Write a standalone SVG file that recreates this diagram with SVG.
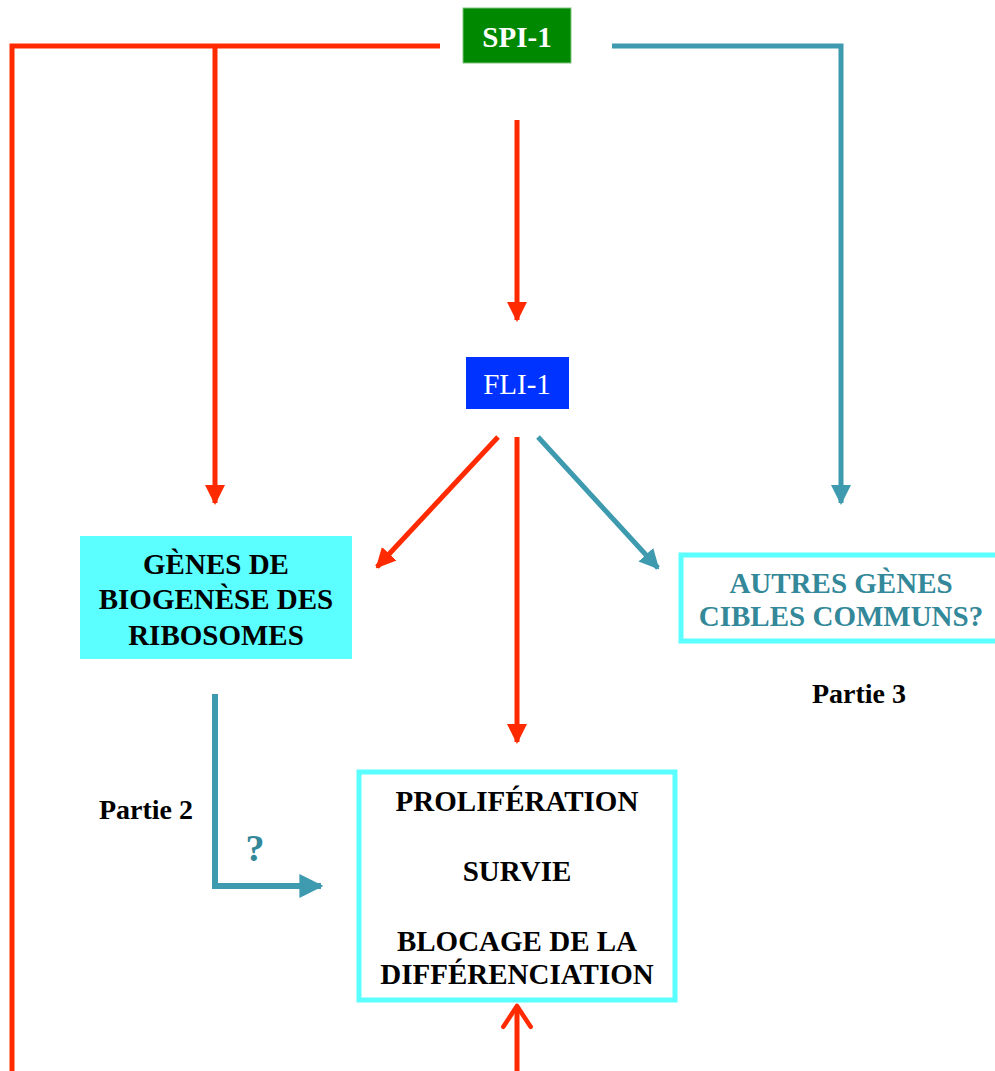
<svg xmlns="http://www.w3.org/2000/svg" width="995" height="1071" viewBox="0 0 995 1071">
<defs>
<style>
.red{stroke:#FF2A00;stroke-width:5;fill:none}
.teal{stroke:#3E9AAE;stroke-width:5;fill:none}
.t{font-family:"Liberation Serif","Times New Roman",serif;font-weight:bold;text-anchor:middle}
</style>
<marker id="ar" viewBox="0 0 10 10" refX="9" refY="5" markerWidth="4" markerHeight="4" orient="auto" markerUnits="strokeWidth"><path d="M0,0 L10,5 L0,10 z" fill="#FF2A00"/></marker>
<marker id="at" viewBox="0 0 10 10" refX="9" refY="5" markerWidth="4" markerHeight="4" orient="auto" markerUnits="strokeWidth"><path d="M0,0 L10,5 L0,10 z" fill="#3E9AAE"/></marker>
<marker id="ao" viewBox="0 0 10 10" refX="9" refY="5" markerWidth="6.5" markerHeight="6.5" orient="auto" markerUnits="strokeWidth"><path d="M2.6,0.8 L9,5 L2.6,9.2" fill="none" stroke="#FF2A00" stroke-width="1.4" stroke-linecap="round" stroke-linejoin="round"/></marker>
</defs>
<rect width="995" height="1071" fill="#fff"/>
<g id="connectors">
<path class="red" d="M440,46 H12 V1073.5 H440"/>
<path class="red" d="M215,46 V503" marker-end="url(#ar)"/>
<path class="teal" d="M612,46 H841 V503" marker-end="url(#at)"/>
<path class="red" d="M517,120 V320" marker-end="url(#ar)"/>
<path class="red" d="M498,437 L377,567" marker-end="url(#ar)"/>
<path class="red" d="M517,437 V742" marker-end="url(#ar)"/>
<path class="teal" d="M538,437 L658,568" marker-end="url(#at)"/>
<path class="teal" style="stroke-width:6" d="M215,694 V886 H321" marker-end="url(#at)"/>
<path class="red" d="M517,1071 V1006" marker-end="url(#ao)"/>
</g>
<g id="spi1">
<rect x="463" y="8" width="108" height="55" fill="#008800" stroke="#7FC47F" stroke-width="1"/>
<text class="t" x="517" y="47" font-size="29" fill="#fff">SPI-1</text>
</g>
<g id="fli1">
<rect x="466" y="357" width="103" height="52" fill="#0033FF"/>
<text class="t" x="517" y="394" font-size="29" fill="#fff" style="font-weight:normal">FLI-1</text>
</g>
<g id="genes-ribo">
<rect x="80" y="536" width="272" height="123" fill="#5BFFFF"/>
<text class="t" font-size="29" fill="#000"><tspan x="216" y="574">GÈNES DE</tspan><tspan x="216" y="609">BIOGENÈSE DES</tspan><tspan x="216" y="645">RIBOSOMES</tspan></text>
</g>
<g id="autres">
<rect x="681" y="555" width="318" height="86" fill="#fff" stroke="#5BFFFF" stroke-width="5"/>
<text class="t" font-size="29" fill="#338899"><tspan x="841" y="593">AUTRES GÈNES</tspan><tspan x="841" y="626">CIBLES COMMUNS?</tspan></text>
</g>
<g id="partie3"><text class="t" x="859" y="703" font-size="28" fill="#000">Partie 3</text></g>
<g id="partie2"><text class="t" x="146" y="819" font-size="28" fill="#000">Partie 2</text></g>
<g id="question"><text class="t" x="255" y="861" font-size="38" fill="#338899">?</text></g>
<g id="result">
<rect x="359" y="772" width="316" height="228" fill="#fff" stroke="#5BFFFF" stroke-width="5"/>
<text class="t" font-size="29" fill="#000"><tspan x="517" y="811">PROLIFÉRATION</tspan><tspan x="517" y="881">SURVIE</tspan><tspan x="517" y="951">BLOCAGE DE LA</tspan><tspan x="517" y="984">DIFFÉRENCIATION</tspan></text>
</g>
</svg>
